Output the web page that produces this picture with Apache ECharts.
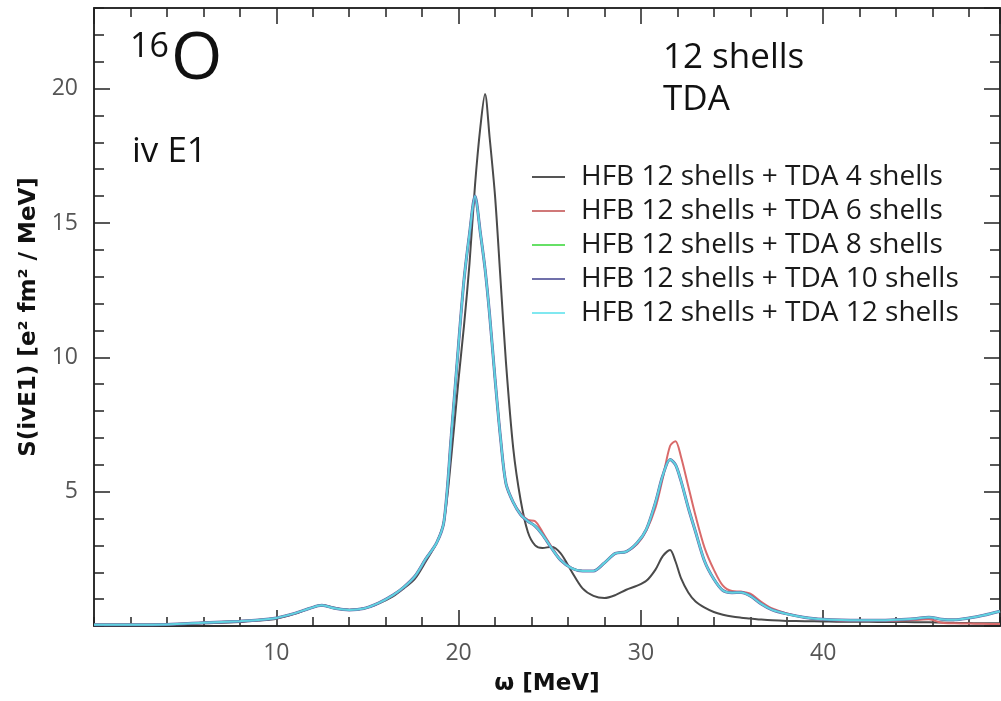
<!DOCTYPE html>
<html>
<head>
<meta charset="utf-8">
<script src="https://cdn.jsdelivr.net/npm/echarts@6/dist/echarts.min.js"></script>
<style>html,body{margin:0;padding:0;background:#fff}#c{width:1001px;height:701px}</style>
</head>
<body>
<div id="c"></div>
<script>
const omega = [0, 2, 4, 6, 8, 9, 10, 11, 11.8, 12.5, 13.2, 14, 14.8, 15.6, 16.4, 17, 17.6, 18.2, 18.8, 19.2, 19.6, 20, 20.3, 20.6, 20.9, 21.2, 21.45, 21.7, 22, 22.3, 22.6, 23, 23.4, 23.8, 24.2, 24.6, 25.1, 25.6, 26.2, 26.8, 27.4, 28, 28.6, 29.2, 29.8, 30.3, 30.8, 31.2, 31.6, 31.9, 32.2, 32.6, 33, 33.5, 34, 34.5, 35, 35.5, 36, 36.6, 37.2, 38, 39, 40, 41, 42, 43, 44, 45, 45.8, 46.5, 47.2, 48, 48.8, 49.7];

const tda4 = [0.05, 0.05, 0.06, 0.1, 0.15, 0.2, 0.27, 0.45, 0.65, 0.77, 0.68, 0.6, 0.65, 0.83, 1.1, 1.4, 1.75, 2.4, 3.1, 3.9, 6.3, 9.2, 11.2, 13.5, 16.4, 18.6, 19.8, 18.2, 16.0, 12.9, 9.8, 6.6, 4.7, 3.5, 3.0, 2.9, 2.95, 2.7, 2.03, 1.4, 1.12, 1.04, 1.15, 1.35, 1.5, 1.68, 2.1, 2.6, 2.83, 2.4, 1.78, 1.25, 0.91, 0.68, 0.52, 0.42, 0.35, 0.31, 0.28, 0.24, 0.21, 0.19, 0.18, 0.17, 0.16, 0.16, 0.15, 0.15, 0.14, 0.14, 0.13, 0.12, 0.11, 0.1, 0.1];

const tda6 = [0.05, 0.05, 0.06, 0.12, 0.18, 0.22, 0.3, 0.47, 0.65, 0.77, 0.66, 0.6, 0.65, 0.85, 1.15, 1.45, 1.85, 2.5, 3.1, 3.9, 7.1, 10.5, 12.9, 14.6, 16.0, 14.6, 13.3, 11.6, 9.2, 7.0, 5.3, 4.6, 4.2, 3.95, 3.9, 3.5, 2.95, 2.45, 2.15, 2.05, 2.05, 2.35, 2.7, 2.77, 3.05, 3.55, 4.4, 5.5, 6.7, 6.88, 6.3, 5.2, 4.1, 2.9, 2.1, 1.5, 1.3, 1.28, 1.2, 0.9, 0.65, 0.47, 0.32, 0.24, 0.2, 0.19, 0.19, 0.2, 0.22, 0.25, 0.12, 0.1, 0.09, 0.08, 0.07];

const tda8 = [0.05, 0.05, 0.06, 0.12, 0.18, 0.22, 0.3, 0.47, 0.65, 0.77, 0.66, 0.6, 0.65, 0.85, 1.15, 1.45, 1.85, 2.5, 3.1, 3.9, 7.1, 10.5, 12.9, 14.6, 16.0, 14.6, 13.3, 11.6, 9.2, 7.0, 5.3, 4.6, 4.15, 3.9, 3.72, 3.4, 2.9, 2.45, 2.15, 2.05, 2.05, 2.35, 2.7, 2.77, 3.1, 3.6, 4.6, 5.6, 6.2, 6.0, 5.4, 4.4, 3.5, 2.4, 1.75, 1.32, 1.24, 1.25, 1.12, 0.82, 0.6, 0.45, 0.32, 0.25, 0.22, 0.21, 0.21, 0.23, 0.27, 0.33, 0.25, 0.23, 0.3, 0.4, 0.55];

const tda10 = [0.05, 0.05, 0.06, 0.12, 0.18, 0.22, 0.3, 0.47, 0.65, 0.77, 0.66, 0.6, 0.65, 0.85, 1.15, 1.45, 1.85, 2.5, 3.1, 3.9, 7.1, 10.5, 12.9, 14.6, 16.0, 14.6, 13.3, 11.6, 9.2, 7.0, 5.3, 4.6, 4.15, 3.9, 3.72, 3.4, 2.9, 2.45, 2.15, 2.05, 2.05, 2.35, 2.7, 2.77, 3.1, 3.6, 4.6, 5.6, 6.2, 6.0, 5.4, 4.4, 3.5, 2.4, 1.75, 1.32, 1.24, 1.25, 1.12, 0.82, 0.6, 0.45, 0.32, 0.25, 0.22, 0.21, 0.21, 0.23, 0.27, 0.33, 0.25, 0.23, 0.3, 0.4, 0.55];

const tda12 = [0.05, 0.05, 0.06, 0.12, 0.18, 0.22, 0.3, 0.47, 0.65, 0.77, 0.66, 0.6, 0.65, 0.85, 1.15, 1.45, 1.85, 2.5, 3.1, 3.9, 7.1, 10.5, 12.9, 14.6, 16.0, 14.6, 13.3, 11.6, 9.2, 7.0, 5.3, 4.6, 4.15, 3.9, 3.72, 3.4, 2.9, 2.45, 2.15, 2.05, 2.05, 2.35, 2.7, 2.77, 3.1, 3.6, 4.6, 5.6, 6.2, 6.0, 5.4, 4.4, 3.5, 2.4, 1.75, 1.32, 1.24, 1.25, 1.12, 0.82, 0.6, 0.45, 0.32, 0.25, 0.22, 0.21, 0.21, 0.23, 0.27, 0.33, 0.25, 0.23, 0.3, 0.4, 0.55];

const seriesNames = ['HFB 12 shells + TDA 4 shells', 'HFB 12 shells + TDA 6 shells', 'HFB 12 shells + TDA 8 shells', 'HFB 12 shells + TDA 10 shells', 'HFB 12 shells + TDA 12 shells'];
const seriesValues = [tda4, tda6, tda8, tda10, tda12];
const lineColors = ['#4a4a4a', '#d96a6a', '#5fe05f', '#6868a8', '#5fd3e0'];
const legendColors = ['#555555', '#d07878', '#66e066', '#7070aa', '#80e8f0'];
const lineWidths = [2, 2, 2, 3, 2];

const FONT = 'Open Sans';
const NAMEFONT = 'DejaVu Sans';
const AX = '#222';

function pairs(vals) { return omega.map((x, i) => [x, vals[i]]); }

const chart = echarts.init(document.getElementById('c'), null, { renderer: 'canvas' });

const lineOn = { show: true, onZero: false, lineStyle: { color: AX, width: 1.5 } };
const baseX = { type: 'value', min: 0, max: 49.7, splitLine: { show: false }, axisLabel: { show: false }, axisTick: { show: false }, axisLine: lineOn };
const baseY = { type: 'value', min: 0, max: 23, splitLine: { show: false }, axisLabel: { show: false }, axisTick: { show: false }, axisLine: lineOn };
const majorTick = { show: true, inside: true, length: 16, lineStyle: { color: AX, width: 1.5 } };
const minorTickX = { show: true, inside: true, length: 9, lineStyle: { color: AX, width: 1.5 } };
const minorTickY = { show: true, inside: true, length: 10, lineStyle: { color: AX, width: 1.5 } };

const option = {
  animation: false,
  backgroundColor: '#fff',
  grid: { left: 94, right: 1, top: 8, bottom: 73, containLabel: false },
  xAxis: [
    Object.assign({}, baseX, {
      position: 'bottom', interval: 10,
      name: 'ω [MeV]', nameLocation: 'middle', nameGap: 47,
      nameTextStyle: { fontFamily: NAMEFONT, fontSize: 23, fontWeight: 'bold', color: '#111' },
      axisTick: majorTick,
      axisLabel: { show: true, margin: 16, fontFamily: FONT, fontSize: 23, color: '#555', showMinLabel: false, showMaxLabel: false }
    }),
    Object.assign({}, baseX, { position: 'bottom', interval: 2, axisTick: minorTickX }),
    Object.assign({}, baseX, { position: 'top', interval: 10, axisTick: majorTick }),
    Object.assign({}, baseX, { position: 'top', interval: 2, axisTick: minorTickX })
  ],
  yAxis: [
    Object.assign({}, baseY, {
      position: 'left', interval: 5,
      name: 'S(ivE1) [e² fm² / MeV]', nameLocation: 'middle', nameGap: 51,
      nameTextStyle: { fontFamily: NAMEFONT, fontSize: 23, fontWeight: 'bold', color: '#111' },
      axisTick: majorTick,
      axisLabel: { show: true, margin: 16, fontFamily: FONT, fontSize: 23, color: '#555', showMinLabel: false, showMaxLabel: false }
    }),
    Object.assign({}, baseY, { position: 'left', interval: 1, axisTick: minorTickY }),
    Object.assign({}, baseY, { position: 'right', interval: 5, axisTick: majorTick }),
    Object.assign({}, baseY, { position: 'right', interval: 1, axisTick: minorTickY })
  ],
  legend: {
    orient: 'vertical', left: 527, top: 157,
    icon: 'rect', itemWidth: 33, itemHeight: 2, itemGap: 4,
    textStyle: { fontFamily: FONT, fontSize: 28, color: '#1a1a1a', lineHeight: 30, padding: [0, 0, 0, 11] },
    data: seriesNames.map((n, i) => ({ name: n, itemStyle: { color: legendColors[i] } }))
  },
  graphic: [
    { type: 'text', left: 130, top: 30, style: { text: '16', fontFamily: FONT, fontSize: 34, fill: '#111' } },
    { type: 'text', left: 171, top: 27, style: { text: 'O', fontFamily: FONT, fontSize: 66, fill: '#111' } },
    { type: 'text', left: 132, top: 135, style: { text: 'iv E1', fontFamily: FONT, fontSize: 35, fill: '#111' } },
    { type: 'text', left: 663, top: 41, style: { text: '12 shells', fontFamily: FONT, fontSize: 35, fill: '#111' } },
    { type: 'text', left: 663, top: 83, style: { text: 'TDA', fontFamily: FONT, fontSize: 35, fill: '#111' } }
  ],
  series: seriesNames.map((n, i) => ({
    name: n, type: 'line', xAxisIndex: 0, yAxisIndex: 0,
    data: pairs(seriesValues[i]),
    smooth: 0.3, symbol: 'none', showSymbol: false,
    lineStyle: { color: lineColors[i], width: lineWidths[i] },
    itemStyle: { color: lineColors[i] },
    z: 2 + i
  }))
};
chart.setOption(option);
</script>
</body>
</html>
